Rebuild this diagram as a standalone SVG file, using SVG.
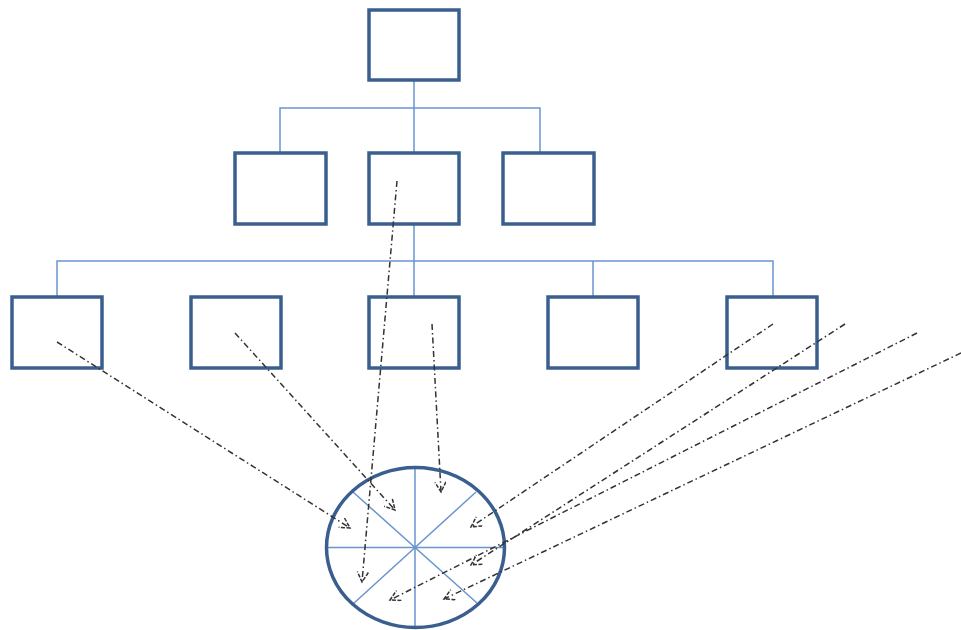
<svg xmlns="http://www.w3.org/2000/svg" width="961" height="630" viewBox="0 0 961 630">
<defs>
<style>
.box{fill:#fff;stroke:#3a5f8f;stroke-width:3.5}
.ln{stroke:#6a95cf;stroke-width:1.5;fill:none}
.dd{stroke:#333;stroke-width:1.5;fill:none;stroke-dasharray:6 3 1.5 3;marker-end:url(#ah)}
</style>
<marker id="ah" markerUnits="userSpaceOnUse" markerWidth="14" markerHeight="14" refX="11" refY="6" orient="auto">
<path d="M1,0.5 L11,6 L1,11.5" fill="none" stroke="#333" stroke-width="1.5" stroke-dasharray="4 1.5"/>
</marker>
</defs>
<rect width="961" height="630" fill="#fff"/>
<g id="connectors">
<path class="ln" d="M414,80 V153 M280,153 V108 H540 V153 M414,224 V297 M57,297 V261 H773 V297 M593,261 V297"/>
</g>
<g id="n1"><rect class="box" x="369" y="10" width="90" height="70"/></g>
<g id="n2"><rect class="box" x="235" y="153" width="91" height="71"/></g>
<g id="n3"><rect class="box" x="369" y="153" width="90" height="71"/></g>
<g id="n4"><rect class="box" x="503" y="153" width="91" height="71"/></g>
<g id="n5"><rect class="box" x="12" y="297" width="90" height="71"/></g>
<g id="n6"><rect class="box" x="191" y="297" width="90" height="71"/></g>
<g id="n7"><rect class="box" x="369" y="297" width="90" height="71"/></g>
<g id="n8"><rect class="box" x="548" y="297" width="90" height="71"/></g>
<g id="n9"><rect class="box" x="727" y="297" width="90" height="71"/></g>
<g id="circle">
<path class="ln" d="M415,468 V627 M327,547.5 H504 M353,492 L477,603 M476,492 L353,604"/>
<ellipse cx="415.5" cy="547.5" rx="89" ry="80" fill="none" stroke="#3a5f8f" stroke-width="3.5"/>
</g>
<g id="arrows">
<path class="dd" d="M57,342 L350,528"/>
<path class="dd" d="M235,333 L395,510"/>
<path class="dd" d="M397,181 L362,582"/>
<path class="dd" d="M432,324 L441,492"/>
<path class="dd" d="M773,324 L471,527"/>
<path class="dd" d="M845,324 L471,565"/>
<path class="dd" d="M917,333 L390,600"/>
<path class="dd" d="M961,353 L444,599"/>
</g>
</svg>
